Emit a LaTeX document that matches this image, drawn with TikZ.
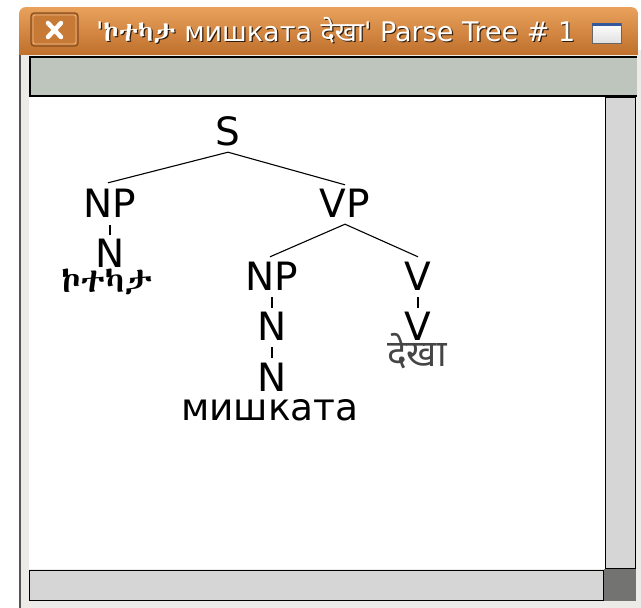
\documentclass[tikz,border=0pt]{standalone}
\usepackage{fontspec}
\setmainfont{DejaVu Sans}
\newfontfamily\latfont{DejaVu Sans}
\newfontfamily\devfont[Script=Devanagari]{Noto Sans}
\IfFontExistsTF{Abyssinica SIL}{\newfontfamily\ethfont{Abyssinica SIL}}{%
  \IfFontExistsTF{Noto Sans Ethiopic}{\newfontfamily\ethfont{Noto Sans Ethiopic}}{%
    \newfontfamily\ethfont{DejaVu Sans}}}

\definecolor{winbg}{HTML}{EDEBE7}
\definecolor{bartop}{HTML}{E9A15C}
\definecolor{barmid}{HTML}{D98943}
\definecolor{barbot}{HTML}{BF712D}
\definecolor{btnfill}{HTML}{C77A36}
\definecolor{btnedge}{HTML}{8A4E1F}
\definecolor{toolbar}{HTML}{BEC5BD}
\definecolor{scroll}{HTML}{D6D6D6}
\definecolor{corner}{HTML}{737471}
\definecolor{frame}{HTML}{555555}
\definecolor{devgray}{HTML}{454545}
\definecolor{iconblue}{HTML}{34589A}

\begin{document}
\begin{tikzpicture}[x=1pt,y=-1pt,
  tlabel/.style={anchor=base, inner sep=0pt, text height=28.5pt, text depth=0pt,
    font=\latfont\fontsize{39}{39}\selectfont},
  leaf/.style={anchor=base, inner sep=0pt},
  branch/.style={line width=1.1pt, black},
  sbar/.style={fill=scroll, draw=black, line width=1.6pt},
  titletext/.style={anchor=base west, inner sep=0pt, font=\latfont\fontsize{27}{27}\selectfont}]
\useasboundingbox (0,0) rectangle (641,608);
\fill[white] (0,0) rectangle (641,608);

% window frame
\fill[winbg] (19,50) rectangle (641,608);
\fill[frame] (19,50) rectangle (21,608);

% title bar
\begin{scope}
  \clip[rounded corners=7pt] (19,7) rectangle (638,80);
  \shade[top color=bartop, middle color=barmid, bottom color=barbot] (19,7) rectangle (638,54);
\end{scope}

% close button
\draw[fill=btnfill, draw=btnedge, line width=1.2pt, rounded corners=3pt] (31,13) rectangle (78,46);
\draw[draw=bartop!70!white, line width=0.8pt, rounded corners=2pt] (33,15) rectangle (76,44);
\draw[white, line width=4.5pt, line cap=round] (48,23) -- (61,37) (61,23) -- (48,37);

% title
\node[titletext, text=black!75!barbot] at (97.2,42.2)
  {'{\ethfont ኮተካታ} мишката {\devfont देखा}' Parse Tree \# 1};
\node[titletext, text=white] (title) at (96,41)
  {'{\ethfont ኮተካታ} мишката {\devfont देखा}' Parse Tree \# 1};

% maximize icon
\shade[top color=white, bottom color=black!12, draw=black!60, line width=1pt] (592,23) rectangle (621,43);
\fill[iconblue] (592,23) rectangle (621,26);

% toolbar strip
\fill[toolbar] (30,56) rectangle (637,97);
\draw[black, line width=1.5pt] (637,57) -- (30,57) -- (30,96) -- (637,96);

% canvas
\fill[white] (29,97) rectangle (605,569);

% scrollbars
\draw[sbar] (605.5,97.5) rectangle (635.5,568.5);
\draw[sbar] (29.5,570.5) rectangle (603.5,600.5);
\fill[corner] (604,569) rectangle (636,601);

% parse tree
\node[tlabel] (S)   at (228,145) {S};
\node[tlabel] (NPa) at (110,217) {NP};
\node[tlabel] (Na)  at (110,267) {N};
\node[leaf, font=\ethfont\fontsize{34}{34}\selectfont] (wa) at (107,292) {ኮተካታ};
\node[tlabel] (VP)  at (345,217) {VP};
\node[tlabel] (NPb) at (272,290) {NP};
\node[tlabel] (Nb)  at (272,340) {N};
\node[tlabel] (Nc)  at (272,391) {N};
\node[leaf, font=\latfont\fontsize{37.5}{37.5}\selectfont] (wb) at (270,420) {мишката};
\node[tlabel] (Va)  at (418,290) {V};
\node[tlabel] (Vb)  at (418,340) {V};
\node[leaf, text=devgray, font=\devfont\fontsize{37}{37}\selectfont] (wc) at (417,366) {देखा};

\draw[branch] ([yshift=-7pt]S.south) -- ([xshift=-2pt,yshift=5.5pt]NPa.north);
\draw[branch] ([yshift=-7pt]S.south) -- ([yshift=3.5pt]VP.north);
\draw[branch] ([yshift=-8pt]NPa.south) -- ([yshift=3.5pt]Na.north);
\draw[branch] ([yshift=-7pt]VP.south) -- ([xshift=-2pt,yshift=4.5pt]NPb.north);
\draw[branch] ([yshift=-7pt]VP.south) -- ([yshift=4.5pt]Va.north);
\draw[branch] ([yshift=-7pt]NPb.south) -- ([yshift=3.5pt]Nb.north);
\draw[branch] ([yshift=-7pt]Nb.south) -- ([yshift=4pt]Nc.north);
\draw[branch] ([yshift=-7pt]Va.south) -- ([yshift=3.5pt]Vb.north);
\end{tikzpicture}
\end{document}
